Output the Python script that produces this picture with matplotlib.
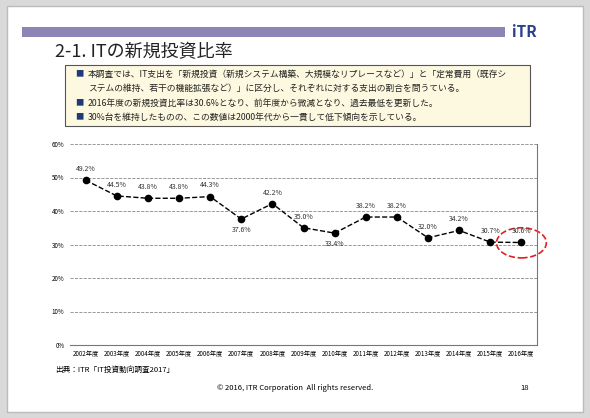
import matplotlib.pyplot as plt
import matplotlib.patches as mpatches
from matplotlib.patches import Ellipse
import numpy as np

plt.rcParams['font.family'] = ['Noto Sans CJK JP', 'DejaVu Sans']

years = ['2002年度', '2003年度', '2004年度', '2005年度', '2006年度', '2007年度', '2008年度',
         '2009年度', '2010年度', '2011年度', '2012年度', '2013年度', '2014年度', '2015年度', '2016年度']
ratios = [49.2, 44.5, 43.8, 43.8, 44.3, 37.6, 42.2, 35.0, 33.4, 38.2, 38.2, 32.0, 34.2, 30.7, 30.6]
# label above (+) or below (-) the point
label_side = [1, 1, 1, 1, 1, -1, 1, 1, -1, 1, 1, 1, 1, 1, 1]

bullet_lines = [
    ('■', '本調査では、IT支出を「新規投資（新規システム構築、大規模なリプレースなど）」と「定常費用（既存シ'),
    ('', 'ステムの維持、若干の機能拡張など）」に区分し、それぞれに対する支出の割合を問うている。'),
    ('■', '2016年度の新規投資比率は30.6%となり、前年度から微減となり、過去最低を更新した。'),
    ('■', '30%台を維持したものの、この数値は2000年代から一貫して低下傾向を示している。'),
]

fig = plt.figure(figsize=(5.9, 4.18), dpi=100)
fig.patch.set_facecolor('#d9d9d9')
fig.patches.append(mpatches.Rectangle((0.012, 0.015), 0.976, 0.97, transform=fig.transFigure,
                                      facecolor='white', edgecolor='#bbbbbb', zorder=-5))
# header banner
fig.patches.append(mpatches.Rectangle((22/590, 1-37/418), 483/590, 10/418, transform=fig.transFigure,
                                      facecolor='#8a85b5', edgecolor='none', zorder=-4))
fig.text(512/590, 1-32/418, 'iTR', fontsize=11, fontweight='bold', color='#2b3f8c', va='center')
fig.text(55/590, 1-52/418, '2-1. ITの新規投資比率', fontsize=13, va='center', color='#222222')

# summary box
fig.patches.append(mpatches.Rectangle((65/590, 1-126/418), 465/590, 61/418, transform=fig.transFigure,
                                      facecolor='#fdf9e0', edgecolor='#555555', lw=0.8, zorder=-4))
ys = [74, 88, 103, 117]
for y, (m, b) in zip(ys, bullet_lines):
    fig.text(75/590, 1-y/418, m, fontsize=6, color='#1f3a7a', va='center')
    fig.text(88/590, 1-y/418, b, fontsize=6.3, va='center', color='#222222')

ax = fig.add_axes([70/590, 1-345/418, 467/590, 201/418])
x = np.arange(len(years))
ax.plot(x, ratios, 'k--', lw=1, marker='o', ms=4.5)
for xi, v, s in zip(x, ratios, label_side):
    ax.annotate(f'{v:.1f}%', (xi, v), xytext=(0, 8 * s), textcoords='offset points',
                ha='center', va='center', fontsize=5, color='#333333')
ax.add_patch(Ellipse((14.0, 30.5), 1.6, 9, fill=False, ec='#e02020', ls='--', lw=1.2, clip_on=False))
ax.set_xlim(-0.5, len(years) - 0.5)
ax.set_ylim(0, 60)
ax.set_yticks(range(0, 61, 10))
ax.set_yticklabels([f'{t}%' for t in range(0, 61, 10)], fontsize=4.5)
ax.set_xticks(x)
ax.set_xticklabels(years, fontsize=4.5)
ax.tick_params(length=0, pad=4)
ax.yaxis.grid(True, ls='--', color='#888888', lw=0.6)
ax.set_axisbelow(True)
for s in ['top', 'left']:
    ax.spines[s].set_visible(False)
ax.spines['right'].set_color('#777777')
ax.spines['bottom'].set_color('#777777')

fig.text(55/590, 1-370/418, '出典：ITR「IT投資動向調査2017」', fontsize=5.5, va='center')
fig.text(0.5, 1-388/418, '© 2016, ITR Corporation  All rights reserved.', fontsize=5.5, ha='center', va='center')
fig.text(520/590, 1-388/418, '18', fontsize=5.5, va='center')

fig.savefig('out.png', dpi=100, facecolor=fig.get_facecolor())
